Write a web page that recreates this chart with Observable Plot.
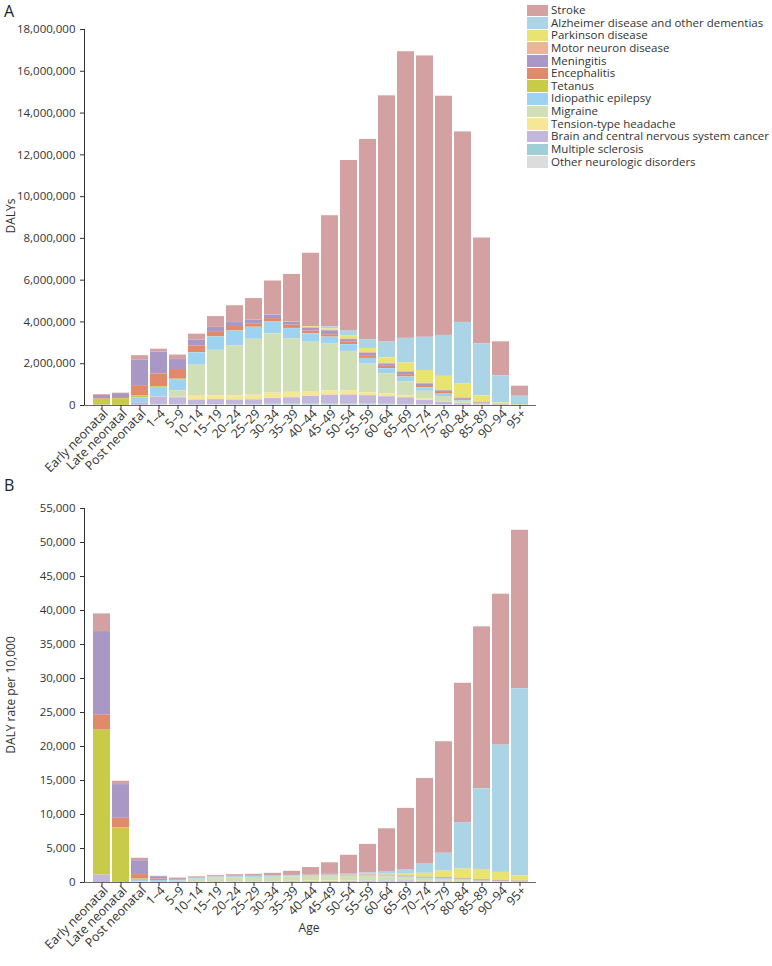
<!DOCTYPE html>
<html><head><meta charset="utf-8">
<script src="https://cdn.jsdelivr.net/npm/d3@7"></script>
<script src="https://cdn.jsdelivr.net/npm/@observablehq/plot@0.6"></script>
<style>
body{margin:0;background:#fff;}
#wrap{position:relative;width:772px;height:966px;font-family:'Open Sans',sans-serif;color:#333;}
.panel{position:absolute;font-size:16px;line-height:22px;color:#222;}
.ylab{position:absolute;font-size:12px;color:#333;white-space:nowrap;transform:translate(-50%,-50%) rotate(-90deg);}
.xlab{position:absolute;font-size:12px;color:#333;white-space:nowrap;transform:translate(-50%,-50%);}
#legend{position:absolute;left:527px;top:4px;font-size:11.5px;}
#legend .row{display:flex;align-items:center;height:12.65px;line-height:12.65px;white-space:nowrap;}
#legend .sw{width:21px;height:11.5px;margin-right:3px;flex:none;}
#chartA,#chartB{position:absolute;left:0;}
</style></head>
<body>
<div id="wrap">
  <div id="chartA" style="top:0"></div>
  <div id="chartB" style="top:480px"></div>
  <div class="panel" style="left:4px;top:0px">A</div>
  <div class="panel" style="left:4px;top:474px">B</div>
  <div class="ylab" style="left:10px;top:216px">DALYs</div>
  <div class="ylab" style="left:10px;top:695px">DALY rate per 10,000</div>
  <div class="xlab" style="left:309px;top:927px">Age</div>
  <div id="legend"></div>
</div>
<script>
const ages = ["Early neonatal","Late neonatal","Post neonatal","1–4","5–9","10–14","15–19","20–24","25–29","30–34","35–39","40–44","45–49","50–54","55–59","60–64","65–69","70–74","75–79","80–84","85–89","90–94","95+"];
const causes = ["Stroke","Alzheimer disease and other dementias","Parkinson disease","Motor neuron disease","Meningitis","Encephalitis","Tetanus","Idiopathic epilepsy","Migraine","Tension-type headache","Brain and central nervous system cancer","Multiple sclerosis","Other neurologic disorders"];
const colors = ["#d3a1a1","#abd5e7","#e9e46f","#ebb59b","#a998c6","#e0896b","#c8cb47","#9dd3f0","#d0dfb5","#f6e797","#c3b7de","#9ecfd7","#dcdcdc"];

// Panel A: DALYs (thousands)
const dalyStroke      = [34,20,220,140,210,270,510,800,1040,1630,2280,3520,5320,8170,9580,11790,13720,13470,11450,9120,5070,1630,480];
const dalyAlzheimer   = [0,0,0,0,0,0,0,0,0,0,0,5,100,240,430,750,1180,1590,1960,2950,2490,1300,410];
const dalyParkinson   = [0,0,0,0,0,0,0,0,0,0,0,40,60,130,190,260,410,610,670,670,320,80,20];
const dalyMotor       = [0,0,5,5,5,5,5,5,10,10,15,20,30,35,40,40,40,30,20,10,5,2,0];
const dalyMeningitis  = [160,190,1210,1040,480,290,240,190,160,160,130,140,190,110,110,110,110,80,80,50,30,10,5];
const dalyEncephalitis= [29,55,480,610,460,320,210,210,160,160,160,130,110,130,130,110,110,110,80,50,30,10,5];
const dalyTetanus     = [280,320,100,40,20,10,10,10,10,10,10,5,5,5,5,5,5,5,5,2,1,0,0];
const dalyEpilepsy    = [0,0,240,430,530,590,640,700,570,560,480,400,330,320,270,240,220,160,110,40,20,5,2];
const dalyMigraine    = [0,0,0,30,320,1450,2170,2390,2680,2840,2570,2360,2230,1880,1370,970,670,380,240,100,20,5,0];
const dalyTension     = [0,0,0,0,20,220,190,210,220,260,260,240,220,210,140,130,100,60,30,20,5,0,0];
const dalyBrainCancer = [16,5,120,350,340,240,240,220,220,270,300,360,420,430,400,360,320,200,130,70,20,5,0];
const dalyMS          = [0,0,0,0,0,0,10,20,30,40,50,50,50,50,50,40,30,20,10,5,2,0,0];
const dalyOther       = [0,0,10,50,30,20,30,20,20,20,20,20,20,20,20,20,20,20,20,10,5,2,1];

// Panel B: DALY rate per 10,000
const rateStroke      = [2600,500,340,47,57,67,126,193,244,369,599,1063,1707,2788,4213,6283,8990,12600,16400,20500,23800,22200,23300];
const rateAlzheimer   = [0,0,0,0,0,0,0,0,0,0,0,0,32,82,190,400,680,1350,2620,6830,11880,18715,27545];
const rateParkinson   = [0,0,0,0,0,0,0,0,0,0,0,12,19,44,84,139,264,560,950,1400,1500,1200,750];
const rateMotor       = [0,0,20,2,1,1,1,1,2,2,4,6,10,12,18,21,26,22,20,15,15,10,5];
const rateMeningitis  = [12300,4950,2050,350,129,72,59,46,37,36,34,42,60,38,48,59,71,60,80,80,90,80,70];
const rateEncephalitis= [2200,1400,650,205,124,80,52,51,37,36,42,39,35,44,57,59,71,80,80,80,90,80,70];
const rateTetanus     = [21300,7900,200,13,5,2,2,2,2,2,3,2,2,2,2,3,3,3,5,3,3,0,0];
const rateEpilepsy    = [0,0,180,145,143,147,158,169,134,127,126,121,104,109,119,128,142,120,110,65,60,40,30];
const rateMigraine    = [0,0,0,10,86,361,535,575,628,644,676,712,706,641,602,517,350,280,240,160,60,20,0];
const rateTension     = [0,0,0,0,5,55,47,51,52,59,68,72,70,72,62,69,64,45,30,30,15,5,0];
const rateBrainCancer = [1100,150,80,118,92,60,59,53,52,61,79,109,133,147,176,192,206,150,130,110,60,30,10];
const rateMS          = [0,0,0,0,0,0,2,5,7,9,13,15,16,17,22,21,19,15,10,8,5,0,0];
const rateOther       = [0,0,50,17,8,5,7,5,5,5,5,6,6,7,9,11,13,15,25,20,20,20,20];

const dalySeries = [dalyStroke,dalyAlzheimer,dalyParkinson,dalyMotor,dalyMeningitis,dalyEncephalitis,dalyTetanus,dalyEpilepsy,dalyMigraine,dalyTension,dalyBrainCancer,dalyMS,dalyOther];
const rateSeries = [rateStroke,rateAlzheimer,rateParkinson,rateMotor,rateMeningitis,rateEncephalitis,rateTetanus,rateEpilepsy,rateMigraine,rateTension,rateBrainCancer,rateMS,rateOther];

const yTicksA = d3.range(0, 18000001, 2000000);
const yTicksB = d3.range(0, 55001, 5000);

function tidy(series, mult) {
  const out = [];
  causes.forEach((c, i) => ages.forEach((a, j) => out.push({age: a, cause: c, value: series[i][j] * mult})));
  return out;
}
const stackOrder = causes.slice().reverse();
const fmt = d3.format(",");

function chart(data, yDomain, yTicks, height, marginTop, marginBottom) {
  return Plot.plot({
    width: 772, height,
    marginLeft: 84, marginRight: 236, marginTop, marginBottom,
    style: {fontFamily: "'Open Sans', sans-serif", fontSize: "11.5px", color: "#333", background: "transparent", overflow: "visible"},
    x: {domain: ages, label: null, paddingInner: 0.12, paddingOuter: 0.06},
    y: {domain: yDomain, ticks: yTicks, tickFormat: fmt, label: null, tickSize: 4, line: true},
    color: {domain: causes, range: colors},
    marks: [
      Plot.barY(data, {x: "age", y: "value", fill: "cause", order: stackOrder}),
      Plot.ruleY([0], {stroke: "#666"}),
      Plot.axisX({tickSize: 4, tickFormat: () => "", label: null}),
      Plot.axisX({tickSize: 0, tickPadding: 6, tickRotate: -45, dx: 4, fontSize: 12.5, label: null})
    ]
  });
}

document.getElementById("chartA").append(chart(tidy(dalySeries, 1000), [0, 18000000], yTicksA, 480, 29, 75));
document.getElementById("chartB").append(chart(tidy(rateSeries, 1), [0, 55000], yTicksB, 486, 28, 84));

const leg = d3.select("#legend");
causes.forEach((c, i) => {
  const r = leg.append("div").attr("class", "row");
  r.append("div").attr("class", "sw").style("background", colors[i]);
  r.append("span").text(c);
});
</script>
</body></html>
